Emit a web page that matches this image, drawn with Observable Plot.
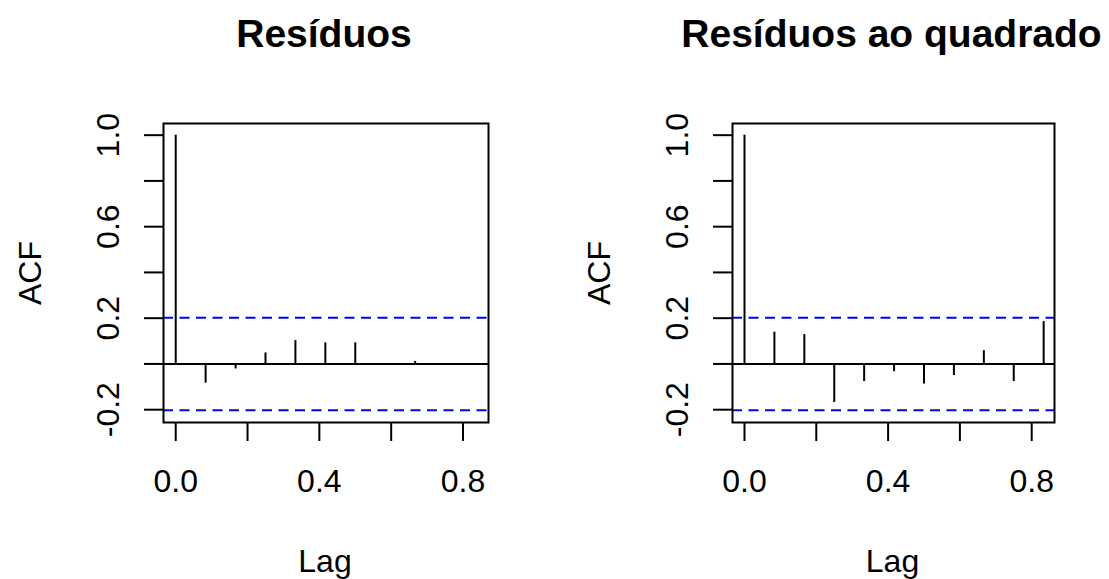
<!DOCTYPE html>
<html>
<head>
<meta charset="utf-8">
<script src="https://cdn.jsdelivr.net/npm/d3@7"></script>
<script src="https://cdn.jsdelivr.net/npm/@observablehq/plot@0.6"></script>
<style>
  body { margin: 0; background: #fff; }
  #row { display: flex; width: 1109px; height: 579px; overflow: hidden; }
  #row svg { display: block; }
</style>
</head>
<body>
<div id="row"></div>
<script>
// ---- data ----
const lags = [0, 0.0833, 0.1667, 0.25, 0.3333, 0.4167, 0.5, 0.5833, 0.6667, 0.75, 0.8333];
const acfResiduos = [1.0, -0.084, -0.022, 0.048, 0.102, 0.092, 0.092, 0.002, 0.011, -0.002, 0.001];
const acfQuadrado = [1.0, 0.139, 0.128, -0.168, -0.077, -0.034, -0.088, -0.051, 0.058, -0.077, 0.185];
const ciLevel = 0.202;
const yTicks = [-0.2, 0, 0.2, 0.4, 0.6, 0.8, 1.0];
const yLabelValues = [-0.2, 0.2, 0.6, 1.0];
const yLabelTexts = ["-0.2", "0.2", "0.6", "1.0"];
const xTicks = [0, 0.2, 0.4, 0.6, 0.8];
const xLabelValues = [0, 0.4, 0.8];
const xLabelTexts = ["0.0", "0.4", "0.8"];
const titles = ["Resíduos", "Resíduos ao quadrado"];
const xAxisTitle = "Lag";
const yAxisTitle = "ACF";

const font = "'Liberation Sans', Arial, Helvetica, sans-serif";

function panel({title, acf, width, marginLeft, marginRight, xDomain}) {
  const data = lags.map((lag, i) => ({lag, acf: acf[i]}));
  const yLab = yLabelValues.map((v, i) => ({v, t: yLabelTexts[i]}));
  const xLab = xLabelValues.map((v, i) => ({v, t: xLabelTexts[i]}));
  return Plot.plot({
    width,
    height: 579,
    marginLeft,
    marginRight,
    marginTop: 123,
    marginBottom: 157,
    style: {fontFamily: font, fontSize: "32px", background: "white", color: "black", overflow: "visible"},
    x: {domain: xDomain},
    y: {domain: [-0.256, 1.051]},
    marks: [
      Plot.ruleY([ciLevel, -ciLevel], {stroke: "#0000ff", strokeWidth: 2, strokeDasharray: "10,6.5"}),
      Plot.ruleY([0], {stroke: "black", strokeWidth: 2}),
      Plot.ruleX(data, {x: "lag", y1: 0, y2: "acf", stroke: "black", strokeWidth: 2}),
      Plot.frame({stroke: "black", strokeWidth: 2}),
      Plot.axisX({ticks: xTicks, tickSize: 19, tickFormat: () => "", label: null, strokeWidth: 2, stroke: "black"}),
      Plot.axisY({ticks: yTicks, tickSize: 19, tickFormat: () => "", label: null, strokeWidth: 2, stroke: "black"}),
      Plot.text(xLab, {x: "v", text: "t", frameAnchor: "bottom", dy: 69.7, lineAnchor: "bottom", fill: "black", fontSize: 32}),
      Plot.text(yLab, {y: "v", text: "t", frameAnchor: "left", dx: -45, rotate: -90, textAnchor: "middle", lineAnchor: "bottom", fill: "black", fontSize: 32}),
      Plot.text([xAxisTitle], {frameAnchor: "bottom", dy: 149.7, lineAnchor: "bottom", fill: "black", fontSize: 32, dx: -1}),
      Plot.text([yAxisTitle], {frameAnchor: "left", dx: -123, rotate: -90, textAnchor: "middle", lineAnchor: "bottom", fill: "black", fontSize: 32}),
      Plot.text([title], {frameAnchor: "top", dy: -76.5, dx: -2, lineAnchor: "bottom", fill: "black", fontSize: 39, fontWeight: "bold"})
    ]
  });
}

const row = document.getElementById("row");
row.appendChild(panel({title: titles[0], acf: acfResiduos, width: 554, marginLeft: 163, marginRight: 66, xDomain: [-0.034, 0.871]}));
row.appendChild(panel({title: titles[1], acf: acfQuadrado, width: 555, marginLeft: 178, marginRight: 55, xDomain: [-0.0334, 0.8635]}));
</script>
</body>
</html>
